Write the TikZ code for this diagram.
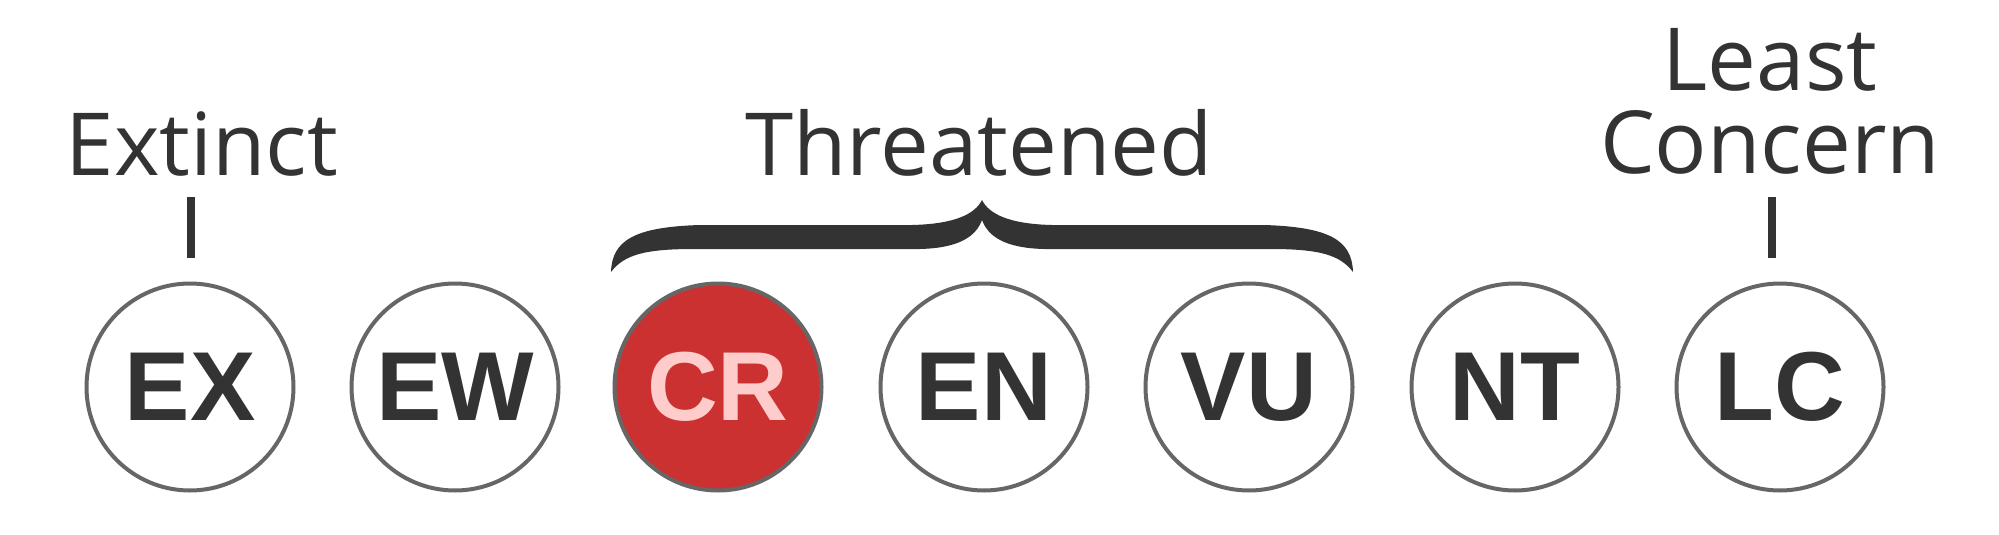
\documentclass[tikz,border=0pt]{standalone}
\usepackage{fontspec}
\setmainfont{Open Sans}
\newfontfamily\arialfont{Liberation Sans}
\usepackage{tikz}
\definecolor{ink}{HTML}{333333}
\definecolor{ring}{HTML}{666666}
\definecolor{crfill}{HTML}{CC3131}
\definecolor{crtext}{HTML}{FFCCCC}

\begin{document}
\begin{tikzpicture}[x=1pt,y=-1pt]
        \tikzset{status/.style = {shape=circle,draw=ring,line width=4pt,minimum size=207pt,inner sep=0pt,fill=white,text=ink,font=\arialfont\bfseries\fontsize{98}{98}\selectfont}}
        \tikzset{statusc/.style = {status,fill=crfill,text=crtext}}
        \tikzset{heading/.style = {inner sep=0pt,anchor=base,text=ink,align=center,font=\fontsize{87}{83}\selectfont}}
        \tikzset{tick/.style = {line width=8pt,draw=ink}}
        \useasboundingbox (0,0) rectangle (1999,535);
        % status circles
        \node[status] (EX) at (190,387) {EX};
        \node[status] (EW) at (455,387) {EW};
        \node[statusc] (CR) at (718,387) {CR};
        \node[status] (EN) at (984,387) {EN};
        \node[status] (VU) at (1249,387) {VU};
        \node[status] (NT) at (1515,387) {NT};
        \node[status] (LC) at (1780,387) {LC};

        % headings
        \node[heading] (extinct) at (202,175) {Extinct};
        \node[heading] (threatened) at (979,175) {Threatened};
        \node[heading] (least) at (1770,173) {Least\\Concern};

        % ticks
        \coordinate (exTop) at (191,197);
        \coordinate (lcTop) at (1772,197);
        \draw[tick, shorten >=24pt] (exTop) -- (exTop |- EX.north);
        \draw[tick, shorten >=24pt] (lcTop) -- (lcTop |- LC.north);

        % brace
        \fill[ink] (611,272) .. controls (612,240) and (635,227) .. (700,225)
          -- (912,225) .. controls (955,224) and (975,214) .. (982,200)
          .. controls (989,214) and (1009,224) .. (1052,225)
          -- (1264,225) .. controls (1329,227) and (1352,240) .. (1353,272)
          .. controls (1340,255) and (1320,249) .. (1270,249)
          -- (1044,249) .. controls (1004,248) and (988,236) .. (982,220)
          .. controls (976,236) and (960,248) .. (920,249)
          -- (694,249) .. controls (644,249) and (624,255) .. (611,272) -- cycle;
\end{tikzpicture}
\end{document}
